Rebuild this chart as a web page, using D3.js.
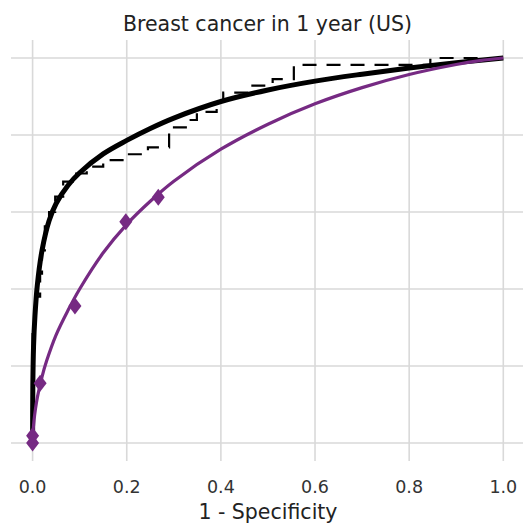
<!DOCTYPE html>
<html>
<head>
<meta charset="utf-8">
<script src="https://cdn.jsdelivr.net/npm/d3@7"></script>
<style>
  html, body { margin: 0; padding: 0; background: #fff; }
  svg { display: block; font-family: "DejaVu Sans", sans-serif; }
</style>
</head>
<body>
<div id="chart"></div>
<script>
const chartTitle = "Breast cancer in 1 year (US)";
const xTitle = "1 - Specificity";
const xTicks = [0, 0.2, 0.4, 0.6, 0.8, 1.0];
const yTicks = [0, 0.2, 0.4, 0.6, 0.8, 1.0];

// Smoothed ROC curve, black solid
const smoothFpr = [0, 0.0005, 0.002, 0.005, 0.01, 0.02, 0.035, 0.05, 0.075, 0.10, 0.15, 0.20, 0.25, 0.30, 0.40, 0.50, 0.60, 0.70, 0.80, 0.90, 1.0];
const smoothTpr = [0, 0.15, 0.25, 0.33, 0.41, 0.50, 0.577, 0.622, 0.669, 0.702, 0.751, 0.786, 0.817, 0.844, 0.887, 0.917, 0.940, 0.958, 0.974, 0.988, 1.0];

// Empirical ROC (step), black dashed
const empFpr = [0, 0, 0.004, 0.008, 0.016, 0.020, 0.026, 0.035, 0.048, 0.065, 0.085, 0.115, 0.150, 0.195, 0.245, 0.29, 0.33, 0.349, 0.391, 0.405, 0.46, 0.51, 0.555, 0.845, 1.0];
const empTpr = [0, 0.30, 0.34, 0.38, 0.44, 0.50, 0.566, 0.60, 0.64, 0.679, 0.70, 0.718, 0.735, 0.75, 0.768, 0.82, 0.839, 0.86, 0.886, 0.91, 0.928, 0.945, 0.982, 1.0, 1.0];

// Model ROC curve, purple
const modelFpr = [0, 0.001, 0.003, 0.006, 0.01, 0.02, 0.03, 0.05, 0.075, 0.10, 0.15, 0.20, 0.25, 0.30, 0.40, 0.50, 0.60, 0.70, 0.80, 0.90, 0.95, 1.0];
const modelTpr = [0, 0.03, 0.058, 0.088, 0.118, 0.172, 0.214, 0.281, 0.344, 0.400, 0.494, 0.568, 0.628, 0.680, 0.763, 0.828, 0.881, 0.923, 0.957, 0.983, 0.993, 1.0];

// Model points (diamonds)
const pointFpr = [0, 0, 0.016, 0.090, 0.198, 0.267];
const pointTpr = [0, 0.019, 0.155, 0.356, 0.575, 0.638];

const W = 523, H = 525;
const panel = { left: 11, right: 523, top: 40, bottom: 461 };

const svg = d3.select("#chart").append("svg").attr("width", W).attr("height", H);

const x = d3.scaleLinear().domain([0, 1]).range([32.6, 503.3]);
const y = d3.scaleLinear().domain([0, 1]).range([443, 58]);

const grid = svg.append("g");
grid.selectAll("line.v").data(xTicks).join("line")
  .attr("x1", d => x(d)).attr("x2", d => x(d))
  .attr("y1", panel.top).attr("y2", panel.bottom)
  .attr("stroke", "#d9d9d9").attr("stroke-width", 1.6);
grid.selectAll("line.h").data(yTicks).join("line")
  .attr("x1", panel.left).attr("x2", panel.right)
  .attr("y1", d => y(d)).attr("y2", d => y(d))
  .attr("stroke", "#d9d9d9").attr("stroke-width", 1.6);

const zip = (a, b) => a.map((v, i) => [v, b[i]]);

const emp = d3.line().x(d => x(d[0])).y(d => y(d[1])).curve(d3.curveStepAfter);
svg.append("path").datum(zip(empFpr, empTpr))
  .attr("d", emp).attr("fill", "none").attr("stroke", "#000")
  .attr("stroke-width", 2.2).attr("stroke-dasharray", "14,10");

const smooth = d3.line().x(d => x(d[0])).y(d => y(d[1])).curve(d3.curveCatmullRom.alpha(0.5));
svg.append("path").datum(zip(smoothFpr, smoothTpr))
  .attr("d", smooth).attr("fill", "none").attr("stroke", "#000")
  .attr("stroke-width", 5);

const purple = "#762a83";
svg.append("path").datum(zip(modelFpr, modelTpr))
  .attr("d", smooth).attr("fill", "none").attr("stroke", purple)
  .attr("stroke-width", 3.2);

svg.append("g").selectAll("path").data(zip(pointFpr, pointTpr)).join("path")
  .attr("transform", d => `translate(${x(d[0])},${y(d[1])})`)
  .attr("d", "M0,-8.5L6.5,0L0,8.5L-6.5,0Z")
  .attr("fill", purple);

// x axis tick labels
svg.append("g").selectAll("text").data(xTicks).join("text")
  .attr("x", d => x(d)).attr("y", 493)
  .attr("text-anchor", "middle")
  .attr("font-size", 17.5).attr("fill", "#333")
  .text(d => d3.format(".1f")(d));

svg.append("text").attr("x", (x(0) + x(1)) / 2).attr("y", 519)
  .attr("text-anchor", "middle").attr("font-size", 20.5).attr("fill", "#222")
  .text(xTitle);

svg.append("text").attr("x", 267.5).attr("y", 31)
  .attr("text-anchor", "middle").attr("font-size", 20.5).attr("fill", "#222")
  .text(chartTitle);
</script>
</body>
</html>
